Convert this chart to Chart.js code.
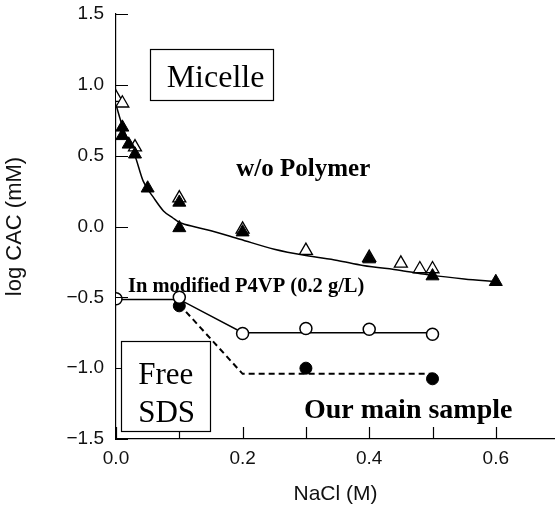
<!DOCTYPE html>
<html>
<head>
<meta charset="utf-8">
<script src="https://cdn.jsdelivr.net/npm/chart.js@4/dist/chart.umd.min.js"></script>
<style>
    html, body { margin: 0; padding: 0; background: #fff; overflow: hidden; }
    canvas { display: block; }
</style>
</head>
<body>
<canvas id="cacChart" width="555" height="507"></canvas>
<script>
// Values (NaCl in M, log CAC in mM)
const filledTriX = [0.01, 0.01, 0.02, 0.03, 0.05, 0.1, 0.1, 0.2, 0.4, 0.5, 0.6];
const filledTriY = [0.70, 0.64, 0.58, 0.51, 0.27, 0.17, -0.01, -0.04, -0.23, -0.35, -0.39];
const openTriX = [0.0, 0.01, 0.03, 0.1, 0.2, 0.3, 0.4, 0.45, 0.48, 0.5];
const openTriY = [0.91, 0.87, 0.56, 0.20, -0.02, -0.17, -0.22, -0.26, -0.30, -0.30];
const openCircX = [0.0, 0.1, 0.2, 0.3, 0.4, 0.5];
const openCircY = [-0.51, -0.50, -0.755, -0.72, -0.725, -0.76];
const filledCircX = [0.1, 0.3, 0.5];
const filledCircY = [-0.56, -1.0, -1.075];

// guide lines drawn through the data
const noPolyFitX = [0.0, 0.01, 0.02, 0.03, 0.043, 0.06, 0.075, 0.09, 0.1, 0.127, 0.15, 0.196, 0.25, 0.3, 0.35, 0.39, 0.45, 0.5, 0.55, 0.6];
const noPolyFitY = [0.86, 0.71, 0.60, 0.50, 0.32, 0.20, 0.11, 0.06, 0.03, -0.005, -0.03, -0.09, -0.16, -0.205, -0.24, -0.275, -0.31, -0.345, -0.37, -0.39];
const p4vpFitX = [0.0, 0.1, 0.2, 0.5];
const p4vpFitY = [-0.515, -0.515, -0.75, -0.75];
const mainFitX = [0.1, 0.2, 0.5];
const mainFitY = [-0.55, -1.04, -1.04];

const xTickValues = [0, 0.1, 0.2, 0.3, 0.4, 0.5, 0.6];
const yTickValues = [-1.5, -1.0, -0.5, 0.0, 0.5, 1.0, 1.5];

const pts = (xs, ys) => xs.map((x, i) => ({ x: x, y: ys[i] }));
const fmt = (v) => (v < 0 ? '\u2212' : '') + Math.abs(v).toFixed(1);

// keep the plot frame where the original has it
const noScalePadding = (scale) => {
    scale.paddingTop = 0;
    scale.paddingBottom = 0;
    scale.paddingLeft = 0;
    scale.paddingRight = 0;
};

// inward tick marks
const innerTicks = {
    id: 'innerTicks',
    afterDraw(chart) {
        const ctx = chart.ctx;
        const xs = chart.scales.x;
        const ys = chart.scales.y;
        const area = chart.chartArea;
        ctx.save();
        ctx.strokeStyle = '#000';
        ctx.lineWidth = 1.2;
        ctx.beginPath();
        xTickValues.forEach(v => {
            const px = Math.round(xs.getPixelForValue(v)) + 0.5;
            ctx.moveTo(px, area.bottom);
            ctx.lineTo(px, area.bottom - 12);
        });
        yTickValues.forEach(v => {
            const py = Math.round(ys.getPixelForValue(v)) + 0.5;
            ctx.moveTo(area.left, py);
            ctx.lineTo(area.left + 12, py);
        });
        ctx.stroke();
        ctx.restore();
    }
};

// boxed labels and text notes, placed in data coordinates
const notes = {
    id: 'notes',
    afterDraw(chart) {
        const ctx = chart.ctx;
        const xs = chart.scales.x;
        const ys = chart.scales.y;
        const X = v => xs.getPixelForValue(v);
        const Y = v => ys.getPixelForValue(v);
        ctx.save();

        const box = (x0, y0, x1, y1) => {
            const l = Math.round(X(x0)) + 0.5, r = Math.round(X(x1)) + 0.5;
            const t = Math.round(Y(y0)) + 0.5, b = Math.round(Y(y1)) + 0.5;
            ctx.fillStyle = '#fff';
            ctx.fillRect(l, t, r - l, b - t);
            ctx.strokeStyle = '#000';
            ctx.lineWidth = 1.2;
            ctx.strokeRect(l, t, r - l, b - t);
        };

        box(0.054, 1.25, 0.248, 0.89);
        box(0.008, -0.81, 0.149, -1.44);

        ctx.fillStyle = '#000';
        ctx.textBaseline = 'alphabetic';
        ctx.textAlign = 'left';
        ctx.font = '32px "Liberation Serif"';
        ctx.fillText('Micelle', X(0.08), Y(0.985));
        ctx.font = '31px "Liberation Serif"';
        ctx.fillText('Free', X(0.035), Y(-1.11));
        ctx.fillText('SDS', X(0.035), Y(-1.38));

        ctx.font = 'bold 25px "Liberation Serif"';
        ctx.fillText('w/o Polymer', X(0.19), Y(0.36));
        ctx.font = 'bold 20.5px "Liberation Serif"';
        ctx.fillText('In modified P4VP (0.2 g/L)', X(0.019), Y(-0.46));
        ctx.font = 'bold 28px "Liberation Serif"';
        ctx.fillText('Our main sample', X(0.297), Y(-1.355));
        ctx.restore();
    }
};

const ctx = document.getElementById('cacChart');
new Chart(ctx, {
    type: 'scatter',
    data: {
        datasets: [
            {
                label: 'P4VP',
                data: pts(openCircX, openCircY),
                pointStyle: 'circle',
                pointRadius: 6,
                pointBackgroundColor: '#fff',
                pointBorderColor: '#000',
                pointBorderWidth: 1.5,
            },
            {
                label: 'Main sample',
                data: pts(filledCircX, filledCircY),
                pointStyle: 'circle',
                pointRadius: 6,
                pointBackgroundColor: '#000',
                pointBorderColor: '#000',
                pointBorderWidth: 1,
            },
            {
                label: 'w/o Polymer (filled)',
                data: pts(filledTriX, filledTriY),
                pointStyle: 'triangle',
                pointRadius: 7.5,
                pointBackgroundColor: '#000',
                pointBorderColor: '#000',
                pointBorderWidth: 1,
            },
            {
                label: 'w/o Polymer (open)',
                data: pts(openTriX, openTriY),
                pointStyle: 'triangle',
                pointRadius: 7.5,
                pointBackgroundColor: '#fff',
                pointBorderColor: '#000',
                pointBorderWidth: 1.3,
            },
            {
                label: 'fit w/o polymer',
                data: pts(noPolyFitX, noPolyFitY),
                showLine: true,
                pointRadius: 0,
                borderColor: '#000',
                borderWidth: 1.5,
                cubicInterpolationMode: 'monotone',
            },
            {
                label: 'fit P4VP',
                data: pts(p4vpFitX, p4vpFitY),
                showLine: true,
                pointRadius: 0,
                borderColor: '#000',
                borderWidth: 1.5,
            },
            {
                label: 'fit main',
                data: pts(mainFitX, mainFitY),
                showLine: true,
                pointRadius: 0,
                borderColor: '#000',
                borderWidth: 2,
                borderDash: [6, 4],
            },
        ],
    },
    options: {
        responsive: false,
        animation: false,
        layout: {
            autoPadding: false,
            padding: { top: 14, right: 0, bottom: 0, left: 0 },
        },
        plugins: {
            legend: { display: false },
            tooltip: { enabled: false },
        },
        scales: {
            x: {
                type: 'linear',
                min: 0,
                max: 0.6935,
                afterBuildTicks: (scale) => {
                    scale.ticks = xTickValues.map(v => ({ value: v }));
                },
                afterFit: (scale) => {
                    scale.height = 68;
                    noScalePadding(scale);
                },
                grid: { drawOnChartArea: false, drawTicks: false },
                border: { display: true, color: '#000', width: 1.2 },
                ticks: {
                    autoSkip: false,
                    maxRotation: 0,
                    padding: 8,
                    color: '#111',
                    font: { family: 'Liberation Sans', size: 19 },
                    callback: (v, i) => (i % 2 === 0 ? fmt(v) : ''),
                },
                title: {
                    display: true,
                    text: 'NaCl (M)',
                    color: '#111',
                    font: { family: 'Liberation Sans', size: 21 },
                    padding: { top: 4, bottom: 0 },
                },
            },
            y: {
                type: 'linear',
                min: -1.5,
                max: 1.5,
                afterBuildTicks: (scale) => {
                    scale.ticks = yTickValues.map(v => ({ value: v }));
                },
                afterFit: (scale) => {
                    scale.width = 116;
                    noScalePadding(scale);
                },
                grid: { drawOnChartArea: false, drawTicks: false },
                border: { display: true, color: '#000', width: 1.2 },
                ticks: {
                    padding: 12,
                    color: '#111',
                    font: { family: 'Liberation Sans', size: 19 },
                    callback: (v) => fmt(v),
                },
                title: {
                    display: true,
                    text: 'log CAC (mM)',
                    color: '#111',
                    font: { family: 'Liberation Sans', size: 22 },
                    padding: { top: 2, bottom: 0 },
                },
            },
        },
    },
    plugins: [innerTicks, notes],
});
</script>
</body>
</html>
